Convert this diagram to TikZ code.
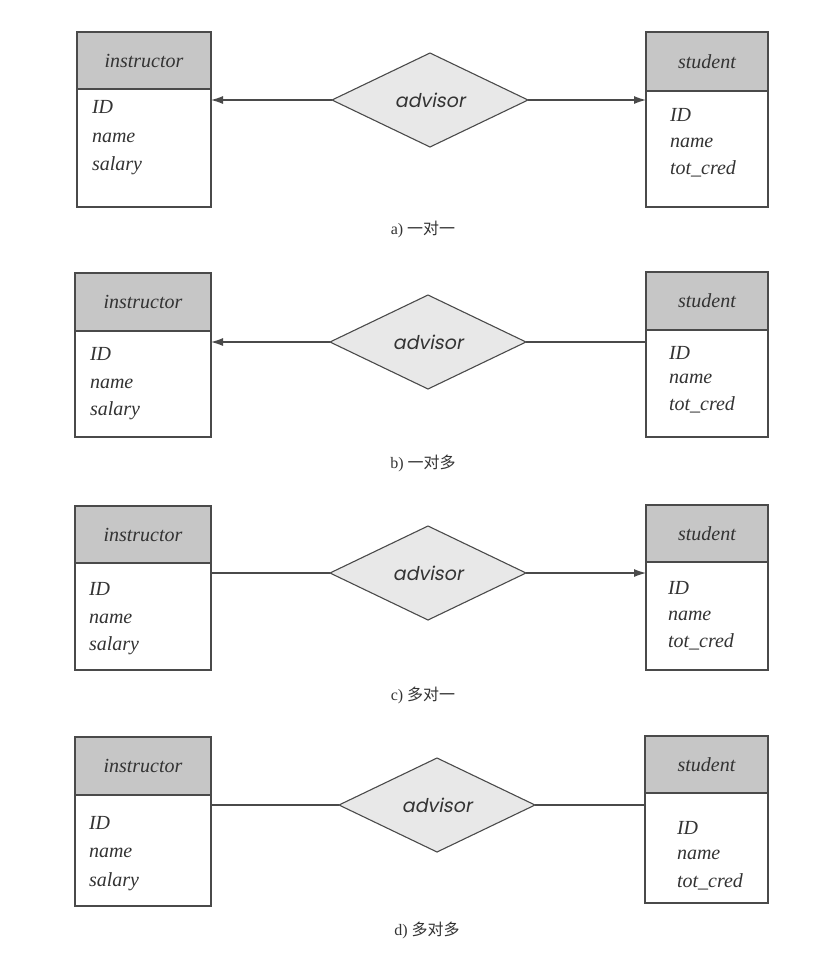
\documentclass[tikz,border=0pt]{standalone}
\usepackage{fontspec}
\setmainfont{Liberation Serif}
\newfontfamily\cjk{Noto Sans CJK SC}
\newfontfamily\advfont[FakeSlant=0.18]{Poppins}
\usetikzlibrary{shapes.geometric,arrows.meta,fit}
\begin{document}
\begin{tikzpicture}[x=1pt,y=-1pt,
  every node/.style={inner sep=0pt, outer sep=0pt},
  hdr/.style={draw=linec, fill=hdrc, line width=1.1pt},
  hdrtext/.style={font=\fontsize{20}{20}\selectfont\itshape, text=txtc},
  bodybox/.style={draw=linec, fill=white, line width=1.1pt},
  attr/.style={anchor=west, font=\fontsize{20}{20}\selectfont\itshape, text=txtc},
  rel/.style={diamond, draw=linec, fill=relc, line width=1.1pt, minimum width=196pt, minimum height=94pt, font=\advfont\fontsize{19}{19}\selectfont, text=txtc},
  conn/.style={draw=linec, line width=1.1pt},
  arr/.style={conn, -{Latex[length=12pt,width=8pt]}},
  captext/.style={font=\fontsize{16}{16}\selectfont, text=txtc}
]
\definecolor{linec}{HTML}{4A4A4A}
\definecolor{hdrc}{HTML}{C6C6C6}
\definecolor{relc}{HTML}{E8E8E8}
\definecolor{txtc}{HTML}{333333}
\useasboundingbox[fill=white] (0,0) rectangle (830,959);

% ---------- a) one-to-one ----------
\node[hdr, fit={(77,32)(211,89)}] (i1h) {};
\node[hdrtext] (i1t) at (i1h.center) {instructor};
\node[bodybox, fit={(77,89)(211,207)}] (i1b) {};
\node[attr] (i1a1) at (92,107) {ID};
\node[attr] (i1a2) at (92,138) {name};
\node[attr] (i1a3) at (92,166) {salary};
\node[hdr, fit={(646,32)(768,91)}] (s1h) {};
\node[hdrtext] (s1t) at (s1h.center) {student};
\node[bodybox, fit={(646,91)(768,207)}] (s1b) {};
\node[attr] (s1a1) at (670,115) {ID};
\node[attr] (s1a2) at (670,143) {name};
\node[attr] (s1a3) at (670,169) {tot\_cred};
\node[rel] (r1) at (430,100) {advisor};
\draw[arr] (r1.west) -- (r1.west -| i1b.east);
\draw[arr] (r1.east) -- (r1.east -| s1b.west);
\node[captext] (c1) at (423,229) {a) {\cjk 一对一}};

% ---------- b) one-to-many ----------
\node[hdr, fit={(75,273)(211,331)}] (i2h) {};
\node[hdrtext] (i2t) at (i2h.center) {instructor};
\node[bodybox, fit={(75,331)(211,437)}] (i2b) {};
\node[attr] (i2a1) at (90,354) {ID};
\node[attr] (i2a2) at (90,384) {name};
\node[attr] (i2a3) at (90,411) {salary};
\node[hdr, fit={(646,272)(768,330)}] (s2h) {};
\node[hdrtext] (s2t) at (s2h.center) {student};
\node[bodybox, fit={(646,330)(768,437)}] (s2b) {};
\node[attr] (s2a1) at (669,353) {ID};
\node[attr] (s2a2) at (669,379) {name};
\node[attr] (s2a3) at (669,405) {tot\_cred};
\node[rel] (r2) at (428,342) {advisor};
\draw[arr] (r2.west) -- (r2.west -| i2b.east);
\draw[conn] (r2.east) -- (r2.east -| s2b.west);
\node[captext] (c2) at (423,463) {b) {\cjk 一对多}};

% ---------- c) many-to-one ----------
\node[hdr, fit={(75,506)(211,563)}] (i3h) {};
\node[hdrtext] (i3t) at (i3h.center) {instructor};
\node[bodybox, fit={(75,563)(211,670)}] (i3b) {};
\node[attr] (i3a1) at (89,589) {ID};
\node[attr] (i3a2) at (89,619) {name};
\node[attr] (i3a3) at (89,646) {salary};
\node[hdr, fit={(646,505)(768,562)}] (s3h) {};
\node[hdrtext] (s3t) at (s3h.center) {student};
\node[bodybox, fit={(646,562)(768,670)}] (s3b) {};
\node[attr] (s3a1) at (668,588) {ID};
\node[attr] (s3a2) at (668,616) {name};
\node[attr] (s3a3) at (668,642) {tot\_cred};
\node[rel] (r3) at (428,573) {advisor};
\draw[conn] (r3.west) -- (r3.west -| i3b.east);
\draw[arr] (r3.east) -- (r3.east -| s3b.west);
\node[captext] (c3) at (423,695) {c) {\cjk 多对一}};

% ---------- d) many-to-many ----------
\node[hdr, fit={(75,737)(211,795)}] (i4h) {};
\node[hdrtext] (i4t) at (i4h.center) {instructor};
\node[bodybox, fit={(75,795)(211,906)}] (i4b) {};
\node[attr] (i4a1) at (89,823) {ID};
\node[attr] (i4a2) at (89,853) {name};
\node[attr] (i4a3) at (89,882) {salary};
\node[hdr, fit={(645,736)(768,793)}] (s4h) {};
\node[hdrtext] (s4t) at (s4h.center) {student};
\node[bodybox, fit={(645,793)(768,903)}] (s4b) {};
\node[attr] (s4a1) at (677,828) {ID};
\node[attr] (s4a2) at (677,855) {name};
\node[attr] (s4a3) at (677,882) {tot\_cred};
\node[rel] (r4) at (437,805) {advisor};
\draw[conn] (r4.west) -- (r4.west -| i4b.east);
\draw[conn] (r4.east) -- (r4.east -| s4b.west);
\node[captext] (c4) at (427,930) {d) {\cjk 多对多}};
\end{tikzpicture}
\end{document}
